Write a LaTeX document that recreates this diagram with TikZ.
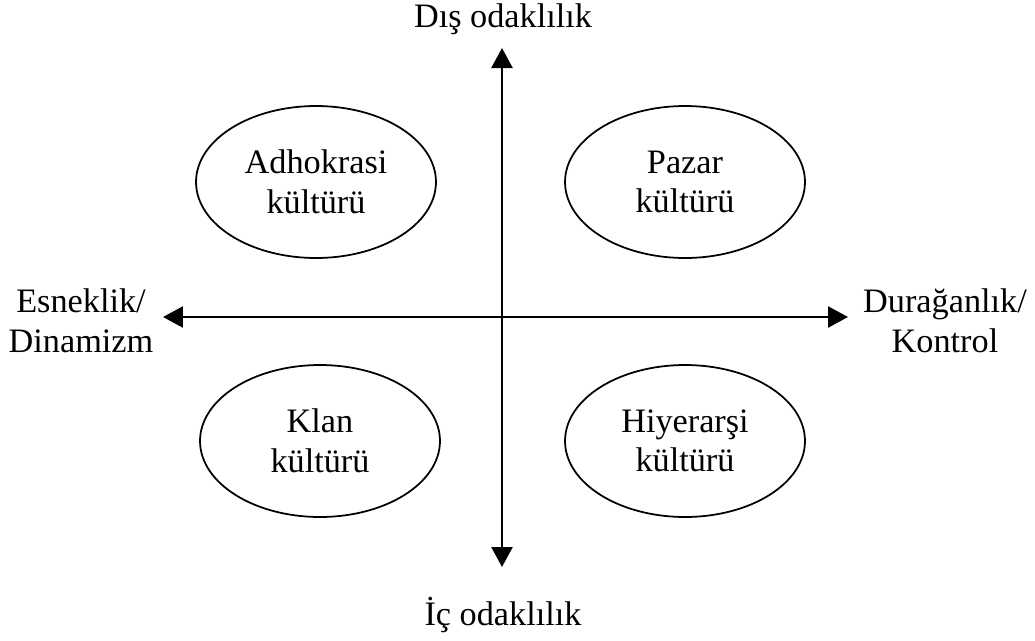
\documentclass[tikz,border=0pt]{standalone}
\usepackage{fontspec}
\setmainfont{Liberation Serif}
\usetikzlibrary{shapes.geometric,arrows.meta}
\begin{document}
\begin{tikzpicture}[x=0.02cm,y=-0.02cm,
  every node/.style={font=\fontsize{19.5pt}{22.5pt}\selectfont, inner sep=0pt},
  cult/.style={draw, ellipse, line width=1pt, minimum width=4.8cm, minimum height=3.04cm, align=center},
  lbl/.style={align=center, anchor=base},
  axis/.style={line width=1.4pt, {Triangle[length=0.4cm,width=0.42cm]}-{Triangle[length=0.4cm,width=0.42cm]}}]
\useasboundingbox (0,0) rectangle (1035,640);
% axes end points
\coordinate (L) at (163,317);
\coordinate (R) at (848,317);
\coordinate (T) at (502,48);
\coordinate (B) at (502,567);
\draw[axis] (L) -- (R);
\draw[axis] (T) -- (B);
% quadrant ellipses
\node[cult] (adh) at (316,182) {Adhokrasi\\kültürü};
\node[cult] (paz) at (685,182) {Pazar\\kültürü};
\node[cult] (kla) at (320,441) {Klan\\kültürü};
\node[cult] (hiy) at (685,441) {Hiyerarşi\\kültürü};
% axis labels
\node[lbl] (dis) at (503,27) {Dış odaklılık};
\node[lbl] (ic) at (503,625) {İç odaklılık};
\node[lbl] (esn) at (81,352) {Esneklik/\\Dinamizm};
\node[lbl] (dur) at (945,352) {Durağanlık/\\Kontrol};
\end{tikzpicture}
\end{document}
